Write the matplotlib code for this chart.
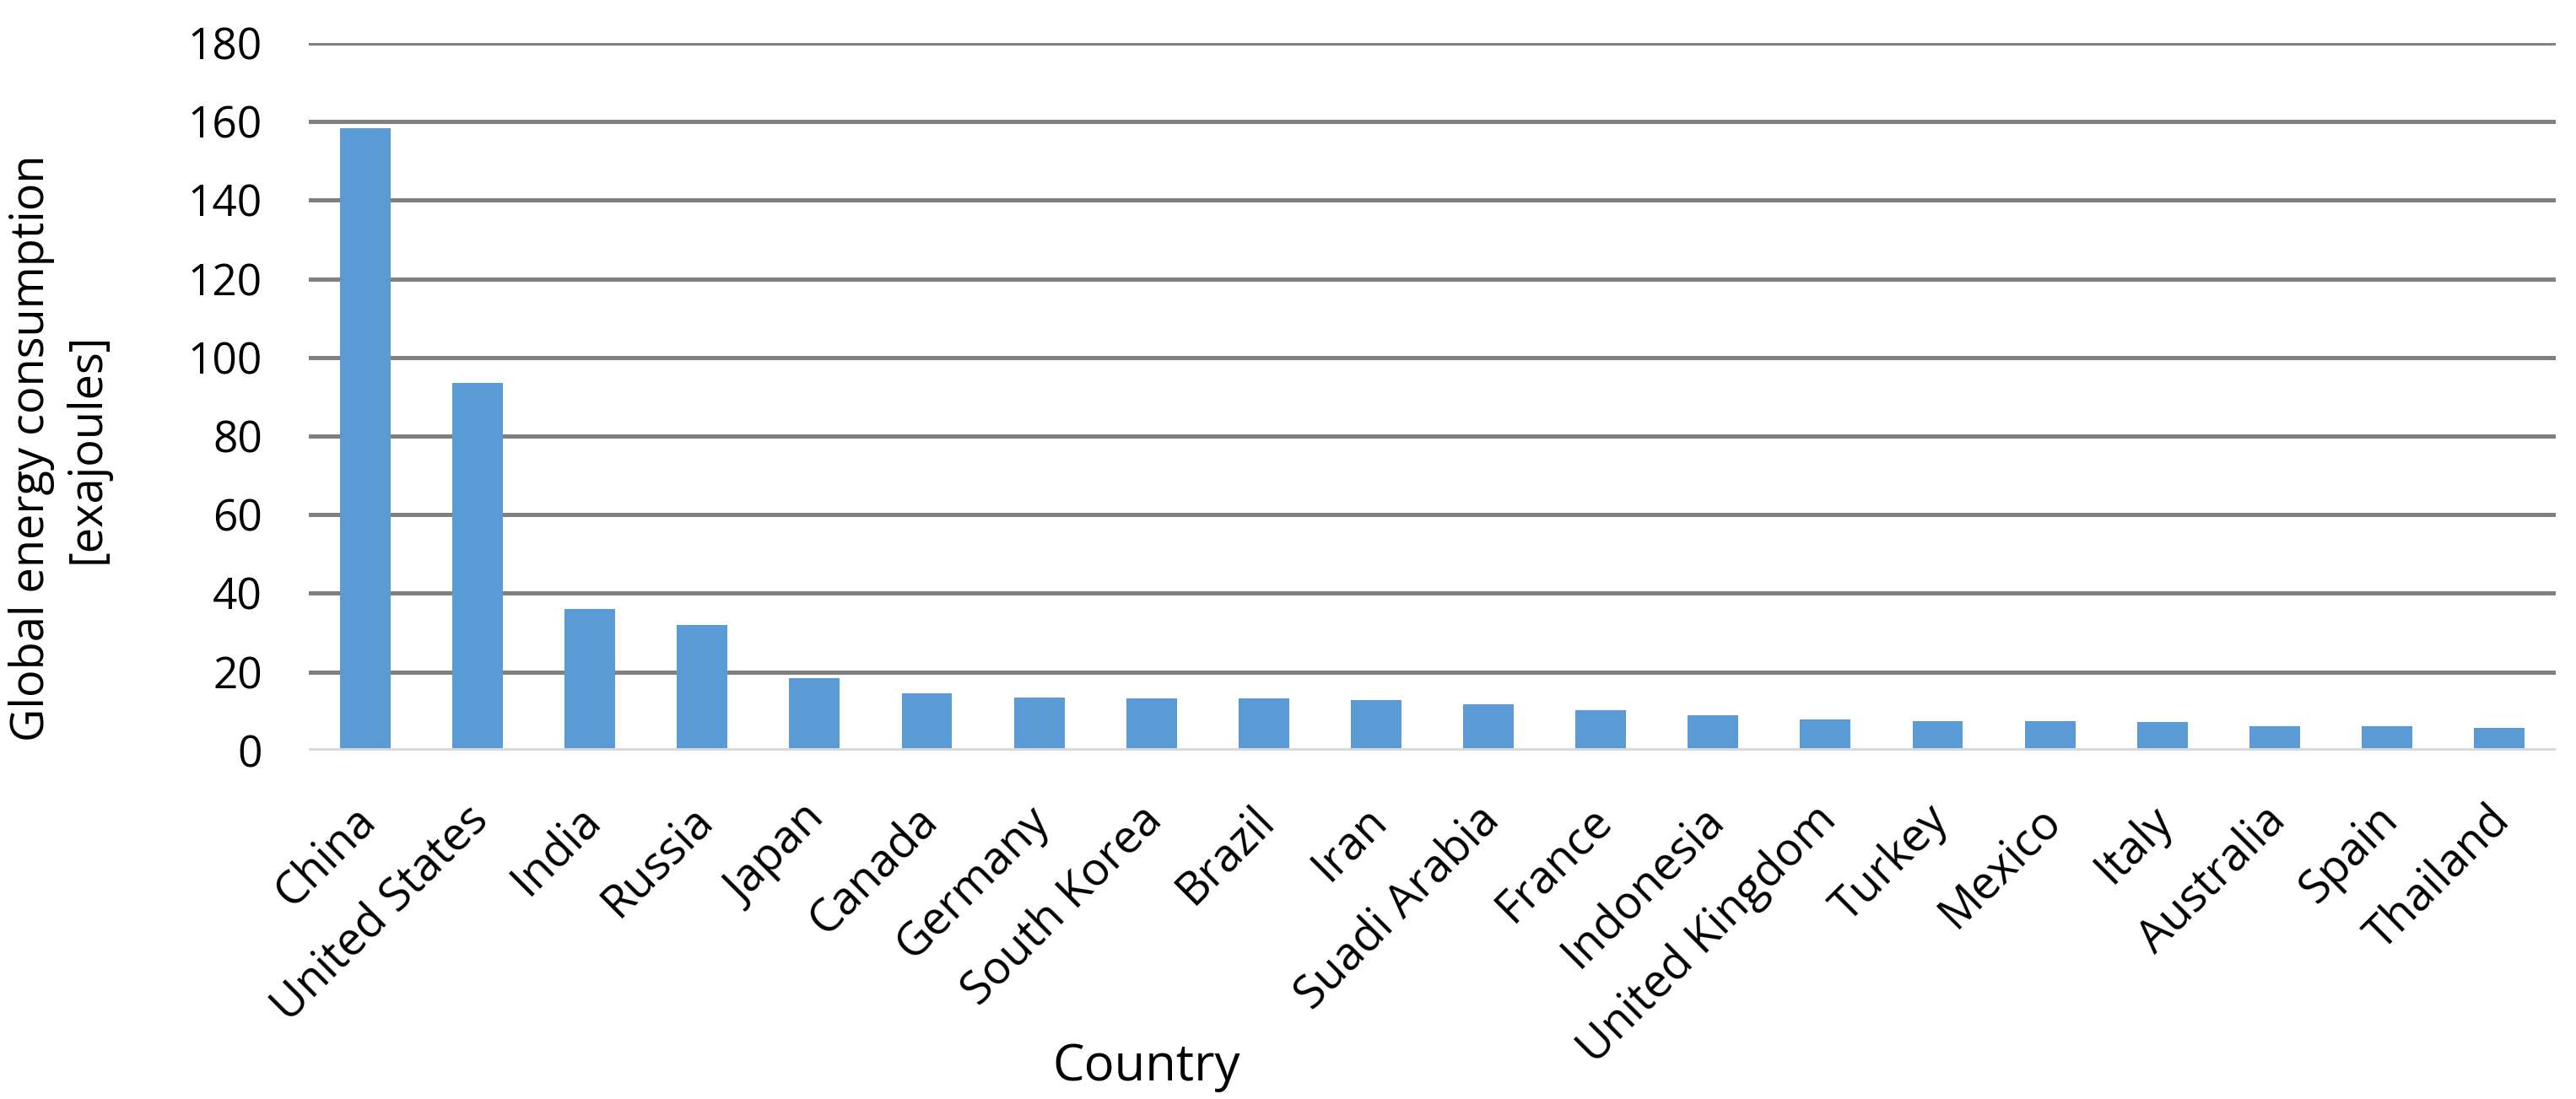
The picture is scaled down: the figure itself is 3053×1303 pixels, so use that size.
import numpy as np
import matplotlib.pyplot as plt
import matplotlib.transforms as mtransforms

countries = ['China', 'United States', 'India', 'Russia', 'Japan', 'Canada',
             'Germany', 'South Korea', 'Brazil', 'Iran', 'Suadi Arabia', 'France',
             'Indonesia', 'United Kingdom', 'Turkey', 'Mexico', 'Italy',
             'Australia', 'Spain', 'Thailand']
consumption = [158.4, 93.6, 36.0, 32.0, 18.4, 14.6,
               13.4, 13.2, 13.2, 12.8, 11.7, 10.2,
               8.9, 8.0, 7.6, 7.6, 7.2,
               6.3, 6.3, 5.7]
yticks = np.arange(0, 181, 20)

plt.rcParams['font.family'] = ['Open Sans', 'DejaVu Sans']

fig = plt.figure(figsize=(30.53, 13.03), dpi=100)
ax = fig.add_axes([0.12, 0.317, 0.872, 0.644])

x = np.arange(len(countries))
ax.bar(x, consumption, width=0.45, color='#5B9BD5', zorder=3)

ax.set_ylim(0, 180)
ax.set_xlim(-0.5, len(countries) - 0.5)
ax.set_yticks(yticks)
ax.set_yticklabels([str(v) for v in yticks], fontsize=37)
ax.set_xticks(x)
ax.set_xticklabels(countries, fontsize=39, rotation=45, ha='right',
                   rotation_mode='anchor')
ax.tick_params(axis='both', length=0)
ax.tick_params(axis='y', pad=40)
ax.tick_params(axis='x', pad=20)

# nudge the rotated labels a bit left and down
shift = mtransforms.ScaledTranslation(-0.15, -0.27, fig.dpi_scale_trans)
for lbl in ax.get_xticklabels():
    lbl.set_transform(lbl.get_transform() + shift)

# gridlines
for v in yticks[1:]:
    ax.axhline(v, color='#808080', lw=3.6, zorder=1)
ax.axhline(0, color='#D9D9D9', lw=5, zorder=4)

for s in ax.spines.values():
    s.set_visible(False)

fig.text(0.445, 0.029, 'Country', fontsize=43, ha='center', va='center')
fig.text(0.023, 0.592, 'Global energy consumption\n[exajoules]', fontsize=39,
         rotation=90, ha='center', va='center', multialignment='center',
         linespacing=1.25)

fig.savefig('out.png', dpi=100, facecolor='white')
